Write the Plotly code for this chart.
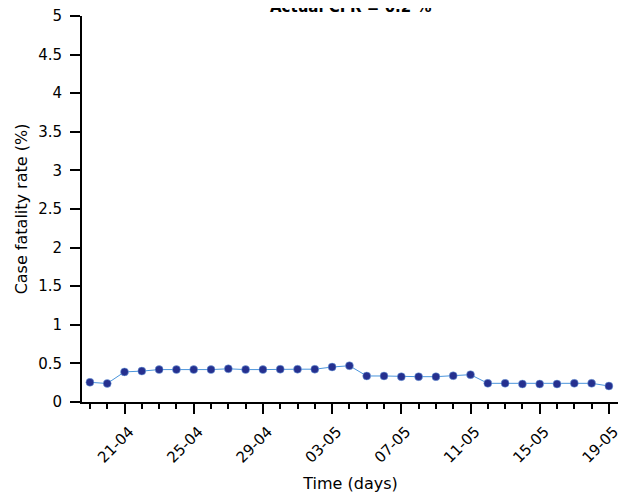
import plotly.graph_objects as go

dates = ["2020-04-19", "2020-04-20", "2020-04-21", "2020-04-22", "2020-04-23", "2020-04-24",
         "2020-04-25", "2020-04-26", "2020-04-27", "2020-04-28", "2020-04-29", "2020-04-30",
         "2020-05-01", "2020-05-02", "2020-05-03", "2020-05-04", "2020-05-05", "2020-05-06",
         "2020-05-07", "2020-05-08", "2020-05-09", "2020-05-10", "2020-05-11", "2020-05-12",
         "2020-05-13", "2020-05-14", "2020-05-15", "2020-05-16", "2020-05-17", "2020-05-18",
         "2020-05-19"]
cfr = [0.255, 0.24, 0.39, 0.40, 0.42, 0.42, 0.42, 0.42, 0.43, 0.42, 0.42, 0.425,
       0.425, 0.425, 0.453, 0.47, 0.337, 0.337, 0.328, 0.328, 0.328, 0.34, 0.354,
       0.242, 0.242, 0.233, 0.233, 0.233, 0.242, 0.242, 0.207]
title_text = "Actual CFR = 0.2 %"

fig = go.Figure()
fig.add_trace(go.Scatter(
    x=dates, y=cfr, mode="lines+markers",
    line=dict(color="#4a95dc", width=1),
    marker=dict(color="#25308f", size=8, line=dict(color="#7fb0e8", width=0.5)),
    showlegend=False,
))

font = "DejaVu Sans, sans-serif"
fig.update_layout(
    width=618, height=491,
    margin=dict(l=74, r=7, t=8, b=97, autoexpand=False),
    plot_bgcolor="white", paper_bgcolor="white",
    font=dict(family=font, size=15, color="black"),
    annotations=[dict(text="<b>" + title_text + "</b>", xref="paper", yref="paper",
                      x=0.5, y=0.996, xanchor="center", yanchor="bottom",
                      showarrow=False, font=dict(size=15, family=font))],
)
fig.update_xaxes(
    type="date", automargin=False, ticklabeloverflow="allow",
    range=["2020-04-18 13:00", "2020-05-19 14:00"],
    tick0="2020-04-21", dtick=4 * 86400000, tickformat="%d-%m",
    tickangle=-45, ticks="outside", ticklen=10, tickwidth=2, tickcolor="black",
    ticklabelshift=5, ticklabelstandoff=3,
    minor=dict(dtick=86400000, tick0="2020-04-19", ticks="outside", ticklen=5,
               tickwidth=2, tickcolor="black", showgrid=False),
    showline=True, linecolor="black", linewidth=2, showgrid=False, zeroline=False,
    title=dict(text="Time (days)", font=dict(size=16), standoff=12),
    tickfont=dict(size=15),
)
fig.update_yaxes(
    automargin=False, ticklabeloverflow="allow",
    range=[0, 5], dtick=0.5, tick0=0,
    ticks="outside", ticklen=10, tickwidth=2, tickcolor="black",
    ticklabelstandoff=5,
    showline=True, linecolor="black", linewidth=2, showgrid=False, zeroline=False,
    title=dict(text="Case fatality rate (%)", font=dict(size=16), standoff=7),
    tickfont=dict(size=15),
)

fig.write_html("out.html")
